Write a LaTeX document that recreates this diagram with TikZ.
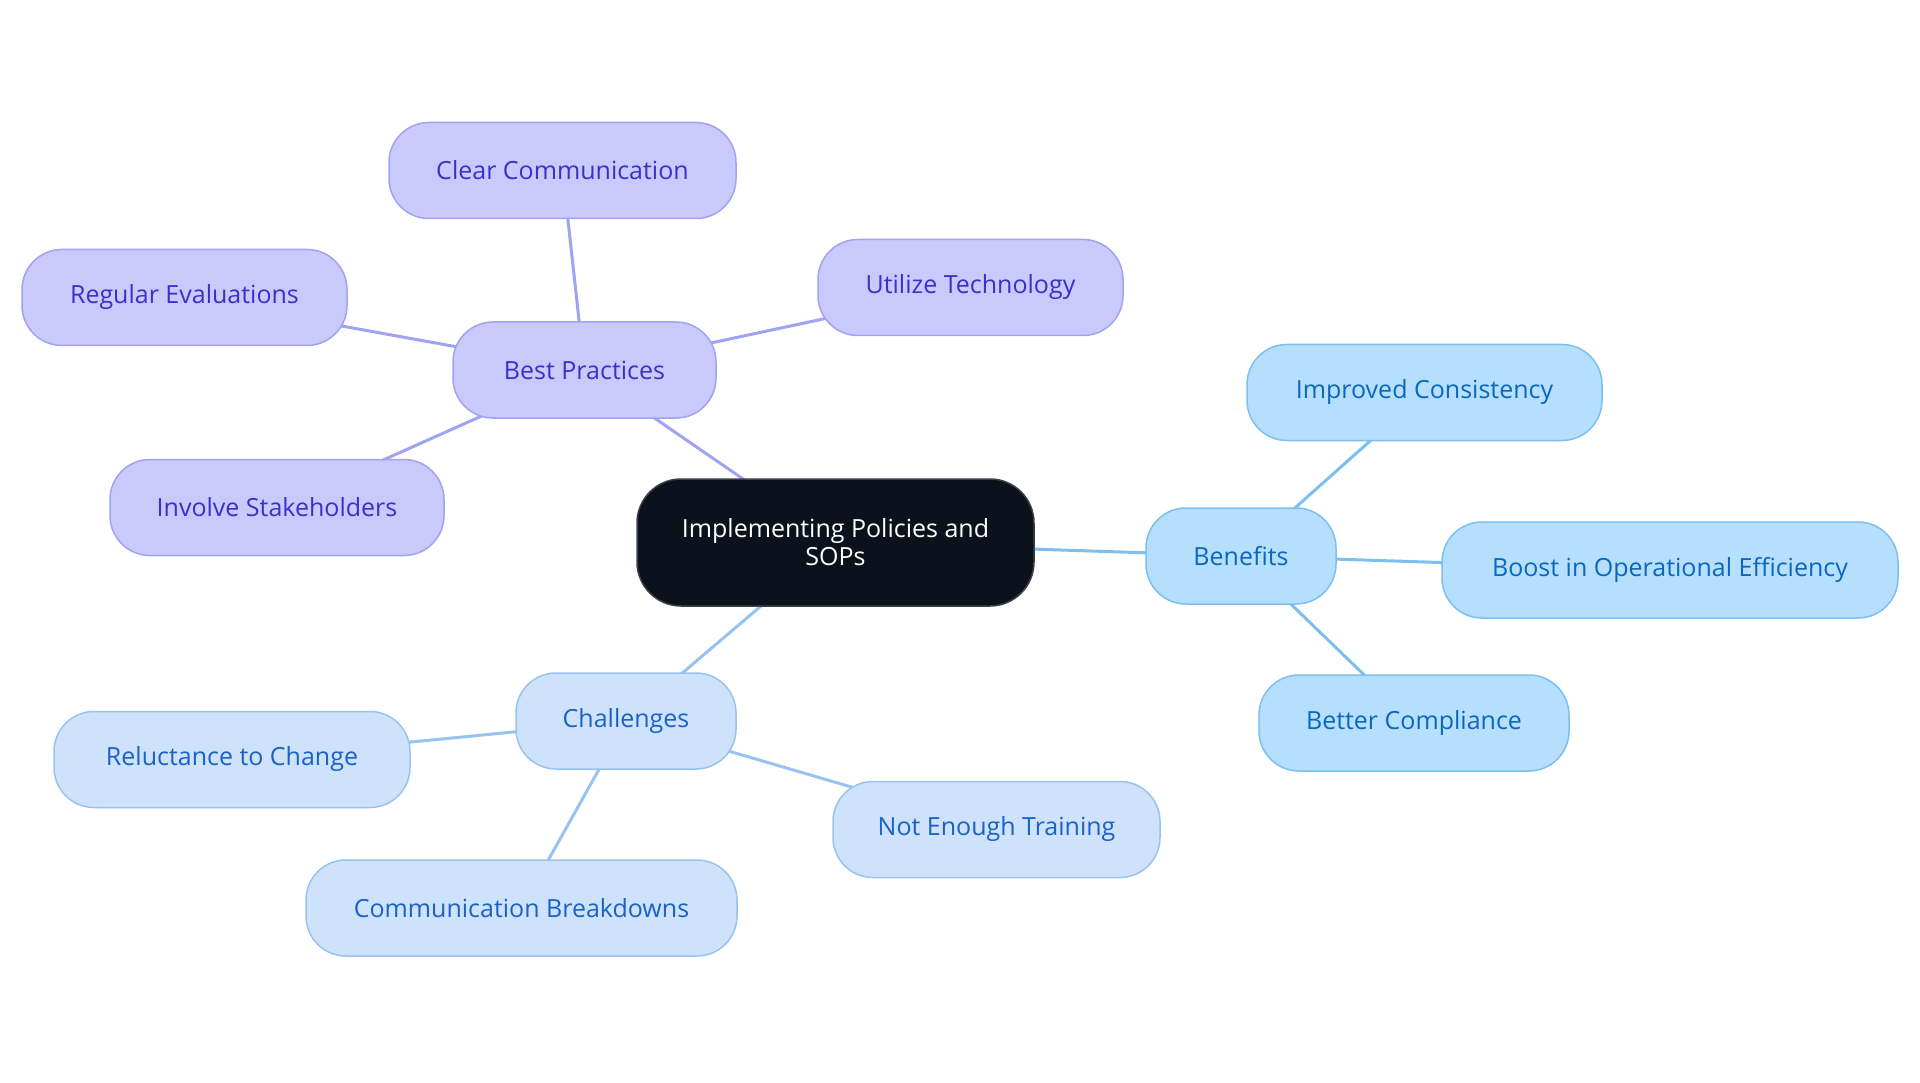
\documentclass[tikz,border=0pt]{standalone}
\usepackage{fontspec}
\setmainfont{Open Sans}
\usetikzlibrary{backgrounds}
\definecolor{pfill}{HTML}{C9CAFB}
\definecolor{pdraw}{HTML}{A0A2F2}
\definecolor{ptext}{HTML}{3A30CC}
\definecolor{bfill}{HTML}{B5DFFD}
\definecolor{bdraw}{HTML}{7CBFF0}
\definecolor{btext}{HTML}{0B67BD}
\definecolor{cfill}{HTML}{CEE3FB}
\definecolor{cdraw}{HTML}{98C3F0}
\definecolor{ctext}{HTML}{1A62C8}
\definecolor{mfill}{HTML}{0C121C}
\definecolor{mdraw}{HTML}{3C4048}
\tikzset{
  box/.style={rounded corners=40pt, line width=1.5pt, minimum height=96pt, align=center, font=\fontsize{25}{28}\selectfont, inner sep=0pt},
  pbox/.style={box, fill=pfill, draw=pdraw, text=ptext},
  bbox/.style={box, fill=bfill, draw=bdraw, text=btext},
  cbox/.style={box, fill=cfill, draw=cdraw, text=ctext},
  mbox/.style={box, fill=mfill, draw=mdraw, text=white, minimum height=127pt, rounded corners=44pt},
  pedge/.style={draw=pdraw, line width=3pt},
  bedge/.style={draw=bdraw, line width=3pt},
  cedge/.style={draw=cdraw, line width=3pt},
}
\begin{document}
\begin{tikzpicture}[x=1pt,y=-1pt]
\useasboundingbox (0,0) rectangle (1920,1083);
\node[mbox, minimum width=397pt] (m) at (835.5,542.5) {Implementing Policies and\\SOPs};
\node[bbox, minimum width=190pt] (b) at (1241,556) {Benefits};
\node[bbox, minimum width=355pt] (b1) at (1424.5,392.5) {Improved Consistency};
\node[bbox, minimum width=456pt] (b2) at (1670,570) {Boost in Operational Efficiency};
\node[bbox, minimum width=310pt] (b3) at (1414,723) {Better Compliance};
\node[pbox, minimum width=263pt] (p) at (584.5,370) {Best Practices};
\node[pbox, minimum width=347pt] (p1) at (562.5,170.5) {Clear Communication};
\node[pbox, minimum width=325pt] (p2) at (184.5,297.5) {Regular Evaluations};
\node[pbox, minimum width=305pt] (p3) at (970.5,287.5) {Utilize Technology};
\node[pbox, minimum width=334pt] (p4) at (277,507.5) {Involve Stakeholders};
\node[cbox, minimum width=220pt] (c) at (626,721) {Challenges};
\node[cbox, minimum width=356pt] (c1) at (232,759.5) {Reluctance to Change};
\node[cbox, minimum width=431pt] (c2) at (521.5,908) {Communication Breakdowns};
\node[cbox, minimum width=327pt] (c3) at (996.5,829.5) {Not Enough Training};
\begin{scope}[on background layer]
\draw[pedge] (m.center) -- (p.center);
\draw[pedge] (p.center) -- (p1.center);
\draw[pedge] (p.center) -- (p2.center);
\draw[pedge] (p.center) -- (p3.center);
\draw[pedge] (p.center) -- (p4.center);
\draw[bedge] (m.center) -- (b.center);
\draw[bedge] (b.center) -- (b1.center);
\draw[bedge] (b.center) -- (b2.center);
\draw[bedge] (b.center) -- (b3.center);
\draw[cedge] (m.center) -- (c.center);
\draw[cedge] (c.center) -- (c1.center);
\draw[cedge] (c.center) -- (c2.center);
\draw[cedge] (c.center) -- (c3.center);
\end{scope}
\end{tikzpicture}
\end{document}
